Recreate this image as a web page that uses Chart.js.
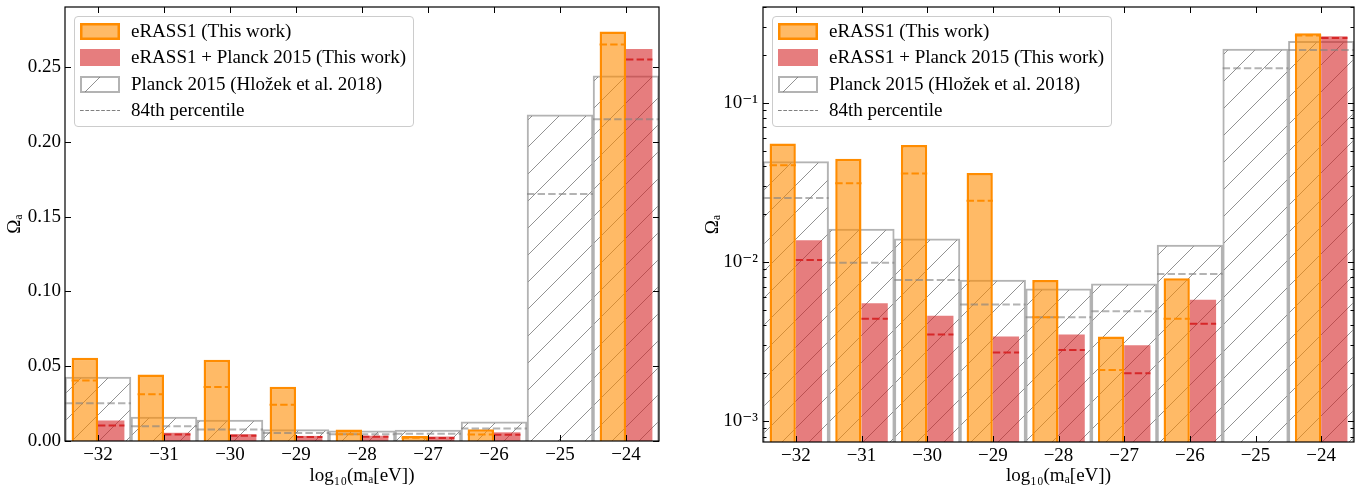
<!DOCTYPE html>
<html>
<head>
<meta charset="utf-8">
<script src="https://cdn.jsdelivr.net/npm/chart.js@4.4.1/dist/chart.umd.min.js"></script>
<style>
html,body{margin:0;padding:0;background:#fff;}
#wrap{position:relative;width:1368px;height:488px;overflow:hidden;font-family:'Liberation Serif',serif;color:#000;}
canvas.cv{position:absolute;top:0;}
.legend{position:absolute;top:16px;width:340px;height:111px;box-sizing:border-box;border:1px solid rgb(204,204,204);border-radius:4px;background:rgba(255,255,255,0.8);}
.row{position:absolute;left:5px;height:26px;display:flex;align-items:center;font-size:19px;white-space:nowrap;}
.row svg{flex:none;margin-right:11px;}
</style>
</head>
<body>
<div id="wrap">
  <canvas id="c1" class="cv" width="684" height="488" style="left:0px"></canvas>
  <canvas id="c2" class="cv" width="684" height="488" style="left:684px"></canvas>
  <div class="legend" id="lg1" style="left:74px"></div>
  <div class="legend" id="lg2" style="left:772px"></div>
</div>
<script>
// ---------------- data ----------------
const categories = [-32, -31, -30, -29, -28, -27, -26, -25, -24];
const planck     = [0.0428, 0.0161, 0.0140, 0.0077, 0.0068, 0.0073, 0.0128, 0.218, 0.244];
const planck84   = [0.0252, 0.0099, 0.0077, 0.0054, 0.0045, 0.0049, 0.0084, 0.165, 0.215];
const erass      = [0.0556, 0.0445, 0.0543, 0.0363, 0.0077, 0.0034, 0.0079, null, 0.2736];
const erass84    = [0.0405, 0.0312, 0.0360, 0.0243, 0.0045, 0.0021, 0.0044, null, 0.265];
const joint      = [0.0137, 0.0055, 0.0046, 0.0034, 0.0035, 0.0030, 0.0058, null, 0.262];
const joint84    = [0.0103, 0.0044, 0.0035, 0.0027, 0.0028, 0.0020, 0.0041, null, 0.255];
const xTicks     = [-32, -31, -30, -29, -28, -27, -26, -25, -24];
const linYTicks  = [0, 0.05, 0.10, 0.15, 0.20, 0.25];
const logYMajor  = [0.001, 0.01, 0.1];
const logYMinor  = [0.0008, 0.0009, 0.002, 0.003, 0.004, 0.005, 0.006, 0.007, 0.008, 0.009,
                    0.02, 0.03, 0.04, 0.05, 0.06, 0.07, 0.08, 0.09, 0.2, 0.3, 0.4];
const labels = {
  erass: 'eRASS1 (This work)',
  joint: 'eRASS1 + Planck 2015 (This work)',
  planck: 'Planck 2015 (Hložek et al. 2018)',
  p84: '84th percentile'
};

// ---------------- styles ----------------
const ORANGE = '#ff8c00', ORANGE_FILL = 'rgba(255,140,0,0.6)';
const RED = '#d62728', RED_FILL = 'rgba(214,39,40,0.6)';
const GRAY = 'rgba(128,128,128,0.6)';
const FONT = "'Liberation Serif', 'DejaVu Serif', serif";
Chart.defaults.font.family = FONT;
Chart.defaults.font.size = 19;
Chart.defaults.color = '#000';

function hatchPattern() {
  const s = 27;
  const c = document.createElement('canvas');
  c.width = s; c.height = s;
  const g = c.getContext('2d');
  g.strokeStyle = 'rgba(110,110,110,0.75)';
  g.lineWidth = 1;
  g.beginPath();
  g.moveTo(-2, s + 2); g.lineTo(s + 2, -2);
  g.moveTo(-2, 2); g.lineTo(2, -2);
  g.moveTo(s - 2, s + 2); g.lineTo(s + 2, s - 2);
  g.stroke();
  return g.createPattern(c, 'repeat');
}

const pts = vals => categories.map((c, i) => ({x: c, y: vals[i]}));
function segs(vals, x0, x1) {
  const out = [];
  categories.forEach((c, i) => {
    if (vals[i] == null) return;
    out.push({x: c + x0, y: vals[i]}, {x: c + x1, y: vals[i]}, {x: c + x1, y: null});
  });
  return out;
}

function datasets(pattern) {
  return [
    {type: 'bar', label: labels.planck, data: pts(planck), backgroundColor: pattern,
     borderColor: GRAY, borderWidth: 1.5, inflateAmount: 0.25, grouped: false, barPercentage: 1, categoryPercentage: 1,
     stack: 'g', order: 10},
    {type: 'bar', label: labels.erass, data: pts(erass), backgroundColor: ORANGE_FILL,
     borderColor: ORANGE, borderWidth: 2.5, barPercentage: 1, categoryPercentage: 0.8,
     stack: 'a', order: 4},
    {type: 'bar', label: labels.joint, data: pts(joint), backgroundColor: RED_FILL,
     borderWidth: 0, barPercentage: 1, categoryPercentage: 0.8, stack: 'b', order: 5},
    {type: 'line', label: labels.p84, data: segs(planck84, -0.5, 0.5), borderColor: GRAY,
     borderWidth: 2, borderDash: [7.4, 3.2], pointRadius: 0, spanGaps: false, order: 3},
    {type: 'line', label: labels.p84 + ' eRASS1', data: segs(erass84, -0.4, 0), borderColor: ORANGE,
     borderWidth: 2, borderDash: [7.4, 3.2], pointRadius: 0, spanGaps: false, order: 2},
    {type: 'line', label: labels.p84 + ' joint', data: segs(joint84, 0, 0.4), borderColor: RED,
     borderWidth: 2, borderDash: [7.4, 3.2], pointRadius: 0, spanGaps: false, order: 1}
  ];
}

const frameTicks = {
  id: 'frameTicks',
  afterDatasetsDraw(chart) {
    const {ctx, chartArea: a, scales: {x, y}} = chart;
    ctx.save();
    ctx.strokeStyle = '#000';
    ctx.lineWidth = 1;
    ctx.beginPath();
    x.ticks.forEach(t => {
      const px = Math.round(x.getPixelForValue(t.value)) + 0.5;
      ctx.moveTo(px, a.bottom); ctx.lineTo(px, a.bottom - 6);
      ctx.moveTo(px, a.top); ctx.lineTo(px, a.top + 6);
    });
    y.ticks.forEach(t => {
      const L = t.major === false ? 3.5 : 6;
      const py = Math.round(y.getPixelForValue(t.value)) + 0.5;
      ctx.moveTo(a.left, py); ctx.lineTo(a.left + L, py);
      ctx.moveTo(a.right, py); ctx.lineTo(a.right - L, py);
    });
    ctx.stroke();
    ctx.lineWidth = 1.2;
    ctx.strokeRect(a.left, a.top, a.right - a.left, a.bottom - a.top);
    ctx.restore();
  }
};

const SUP = {'-': '⁻', '0': '⁰', '1': '¹', '2': '²', '3': '³', '4': '⁴', '5': '⁵', '6': '⁶', '7': '⁷', '8': '⁸', '9': '⁹'};
const supStr = n => String(n).split('').map(ch => SUP[ch]).join('');

function makeOptions(isLog, yW, xH, padR, yTitlePad) {
  const y = isLog ? {
    type: 'logarithmic', min: 0.00074, max: 0.40, stacked: false,
    afterBuildTicks: s => {
      s.ticks = logYMajor.map(v => ({value: v, major: true}))
        .concat(logYMinor.map(v => ({value: v, major: false})))
        .sort((p, q) => p.value - q.value);
    },
    ticks: {autoSkip: false, padding: 5, color: '#000',
      callback: (v, i, ticks) => ticks[i] && ticks[i].major ? '10' + supStr(Math.round(Math.log10(v))) : ''}
  } : {
    type: 'linear', min: 0, max: 0.29, stacked: false,
    afterBuildTicks: s => { s.ticks = linYTicks.map(v => ({value: v})); },
    ticks: {autoSkip: false, padding: 4, color: '#000', callback: v => v.toFixed(2)}
  };
  Object.assign(y, {
    grid: {display: false, drawTicks: false}, border: {display: false},
    title: {display: true, text: 'Ωₐ', color: '#000', font: {size: 19}, padding: {top: yTitlePad, bottom: 0}},
    afterFit: s => { s.width = yW; s.paddingTop = 0; s.paddingBottom = 0; }
  });
  return {
    responsive: false, animation: false, devicePixelRatio: 1,
    layout: {padding: {top: 7, right: padR, bottom: 0, left: 0}},
    plugins: {legend: {display: false}, tooltip: {enabled: false}},
    scales: {
      x: {
        type: 'linear', min: -32.5, max: -23.5, offset: false, stacked: false,
        grid: {display: false, drawTicks: false}, border: {display: false},
        afterBuildTicks: s => { s.ticks = xTicks.map(v => ({value: v})); },
        ticks: {autoSkip: false, maxRotation: 0, padding: 3, color: '#000',
          callback: v => (v < 0 ? '−' : '') + Math.abs(v)},
        title: {display: true, text: 'log₁₀(mₐ[eV])', color: '#000', font: {size: 19}, padding: {top: 0, bottom: 1}},
        afterFit: s => { s.height = xH; s.paddingLeft = 0; s.paddingRight = 0; }
      },
      y: y
    }
  };
}

const pattern = hatchPattern();
new Chart(document.getElementById('c1'), {
  data: {datasets: datasets(pattern)},
  options: makeOptions(false, 65, 47, 25, 4),
  plugins: [frameTicks]
});
new Chart(document.getElementById('c2'), {
  data: {datasets: datasets(pattern)},
  options: makeOptions(true, 79, 46, 14, 18),
  plugins: [frameTicks]
});

// ---------------- HTML legend ----------------
function legendHTML() {
  const sw = {
    erass: `<svg width="40" height="17"><rect x="1.25" y="1.25" width="37.5" height="14.5" fill="${ORANGE_FILL}" stroke="${ORANGE}" stroke-width="2.5"/></svg>`,
    joint: `<svg width="40" height="17"><rect x="0" y="0" width="40" height="17" fill="${RED_FILL}"/></svg>`,
    planck: `<svg width="40" height="17"><rect x="1" y="1" width="38" height="15" fill="none" stroke="${GRAY}" stroke-width="2"/><line x1="5" y1="16" x2="20" y2="1" stroke="rgba(110,110,110,0.75)" stroke-width="1"/></svg>`,
    p84: `<svg width="40" height="17"><line x1="0" y1="8.5" x2="40" y2="8.5" stroke="rgb(128,128,128)" stroke-width="1" stroke-dasharray="3.7 1.6"/></svg>`
  };
  const keys = ['erass', 'joint', 'planck', 'p84'];
  const tops = [1, 27, 54, 80];
  return keys.map((k, i) => `<div class="row" style="top:${tops[i]}px">${sw[k]}<span>${labels[k]}</span></div>`).join('');
}
document.getElementById('lg1').innerHTML = legendHTML();
document.getElementById('lg2').innerHTML = legendHTML();
</script>
</body>
</html>
